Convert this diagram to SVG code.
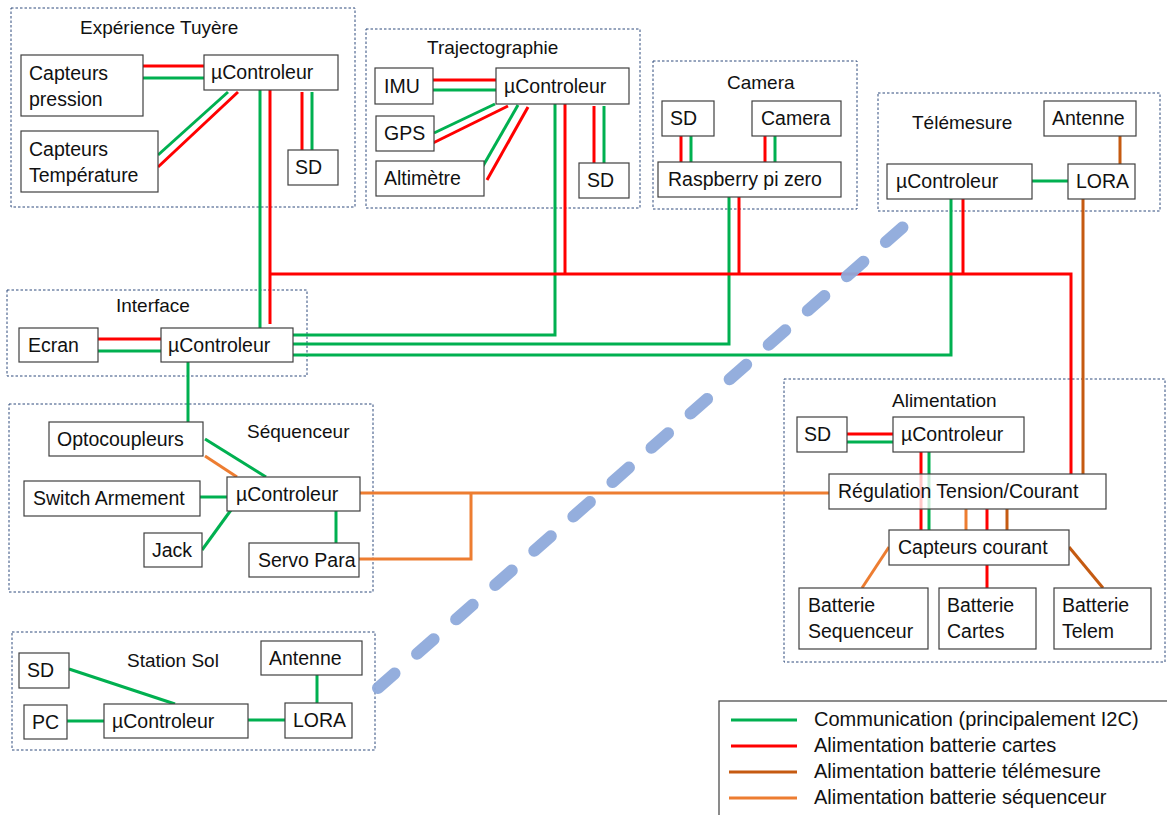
<svg xmlns="http://www.w3.org/2000/svg" width="1167" height="815" viewBox="0 0 1167 815">
<style>
text{font-family:"Liberation Sans",Arial,sans-serif;font-size:19.5px;fill:#111}
.ttl{font-size:19px}
.lg{font-size:20px}
.grp{fill:none;stroke:#2f4b7c;stroke-width:1;stroke-dasharray:2.5 2}
.box{fill:#fff;stroke:#404040;stroke-width:1.2}
.g{stroke:#00b050;stroke-width:3;fill:none}
.r{stroke:#ff0000;stroke-width:3;fill:none}
.b{stroke:#c55a11;stroke-width:3;fill:none}
.o{stroke:#ed7d31;stroke-width:3;fill:none}
.radio{stroke:#8eaadb;stroke-width:12;stroke-linecap:round;stroke-dasharray:22 30;fill:none;opacity:0.95}
</style>
<rect width="1167" height="815" fill="#fff"/>

<g id="frames">
<rect class="grp" x="11" y="8" width="344" height="199"/>
<rect class="grp" x="366" y="29" width="274" height="179"/>
<rect class="grp" x="653" y="61" width="204" height="148"/>
<rect class="grp" x="878" y="93" width="282" height="118"/>
<rect class="grp" x="7" y="290" width="300" height="86"/>
<rect class="grp" x="9" y="404" width="364" height="188"/>
<rect class="grp" x="784" y="379" width="381" height="283"/>
<rect class="grp" x="12" y="632" width="363" height="118"/>
<text class="ttl" x="80" y="34">Expérience Tuyère</text>
<text class="ttl" x="427" y="54">Trajectographie</text>
<text class="ttl" x="727" y="89">Camera</text>
<text class="ttl" x="912" y="129">Télémesure</text>
<text class="ttl" x="116" y="312">Interface</text>
<text class="ttl" x="247" y="438">Séquenceur</text>
<text class="ttl" x="892" y="407">Alimentation</text>
<text class="ttl" x="127" y="667">Station Sol</text>
</g>

<g id="connectors">
<line class="r" x1="143" y1="66" x2="204" y2="66"/>
<line class="g" x1="143" y1="78" x2="204" y2="78"/>
<line class="g" x1="228" y1="92" x2="158" y2="155"/>
<line class="r" x1="238" y1="92" x2="158" y2="167"/>
<line class="r" x1="302" y1="92" x2="302" y2="150"/>
<line class="g" x1="312" y1="92" x2="312" y2="150"/>
<line class="g" x1="260" y1="90" x2="260" y2="328"/>
<line class="r" x1="270" y1="90" x2="270" y2="324"/>
<line class="r" x1="433" y1="80" x2="496" y2="80"/>
<line class="g" x1="433" y1="90" x2="496" y2="90"/>
<line class="g" x1="495" y1="104" x2="434" y2="133"/>
<line class="r" x1="508" y1="106" x2="433" y2="143"/>
<line class="g" x1="518" y1="105" x2="483" y2="166"/>
<line class="r" x1="528" y1="107" x2="487" y2="180"/>
<line class="r" x1="594" y1="106" x2="594" y2="163"/>
<line class="g" x1="604" y1="106" x2="604" y2="163"/>
<polyline class="g" points="555,104 555,335 293,335"/>
<line class="r" x1="565" y1="104" x2="565" y2="274"/>
<line class="r" x1="681" y1="136" x2="681" y2="162"/>
<line class="g" x1="691" y1="136" x2="691" y2="162"/>
<line class="r" x1="765" y1="136" x2="765" y2="162"/>
<line class="g" x1="775" y1="136" x2="775" y2="162"/>
<polyline class="g" points="729,197 729,344 293,344"/>
<line class="r" x1="739" y1="197" x2="739" y2="274"/>
<line class="g" x1="1032" y1="181" x2="1068" y2="181"/>
<line class="b" x1="1120" y1="136" x2="1120" y2="164"/>
<polyline class="g" points="951,199 951,355 293,355"/>
<line class="r" x1="963" y1="199" x2="963" y2="274"/>
<line class="b" x1="1083" y1="199" x2="1083" y2="474"/>
<polyline class="r" points="270,274 1071,274 1071,474"/>
<line class="r" x1="98" y1="339" x2="161" y2="339"/>
<line class="g" x1="98" y1="351" x2="161" y2="351"/>
<line class="g" x1="188" y1="362" x2="188" y2="422"/>
<line class="g" x1="205" y1="439" x2="266" y2="477"/>
<line class="o" x1="205" y1="456" x2="237" y2="477"/>
<line class="g" x1="200" y1="497" x2="227" y2="497"/>
<line class="g" x1="231" y1="510" x2="202" y2="550"/>
<line class="g" x1="336" y1="511" x2="336" y2="543"/>
<line class="o" x1="360" y1="493" x2="829" y2="493"/>
<polyline class="o" points="359,559 471,559 471,493"/>
<line class="r" x1="847" y1="434" x2="893" y2="434"/>
<line class="g" x1="847" y1="442" x2="893" y2="442"/>
<line class="r" x1="921" y1="452" x2="921" y2="530"/>
<line class="g" x1="929" y1="452" x2="929" y2="530"/>
<line class="o" x1="966" y1="509" x2="966" y2="530"/>
<line class="r" x1="987" y1="509" x2="987" y2="530"/>
<line class="b" x1="1007" y1="509" x2="1007" y2="530"/>
<line class="o" x1="889" y1="547" x2="862" y2="588"/>
<line class="r" x1="987" y1="565" x2="987" y2="588"/>
<line class="b" x1="1069" y1="547" x2="1103" y2="588"/>
<line class="g" x1="69" y1="669" x2="175" y2="704"/>
<line class="g" x1="67" y1="721" x2="104" y2="721"/>
<line class="g" x1="248" y1="720" x2="285" y2="720"/>
<line class="g" x1="317" y1="675" x2="317" y2="703"/>
<line class="radio" x1="378" y1="688" x2="920" y2="212"/>
</g>

<g id="tuyere">
<g id="t-capp"><rect class="box" x="21" y="55" width="122" height="61"/><text x="29" y="80">Capteurs</text><text x="29" y="106">pression</text></g>
<g id="t-uc"><rect class="box" x="204" y="55" width="134" height="35"/><text x="211" y="79">µControleur</text></g>
<g id="t-capt"><rect class="box" x="21" y="131" width="137" height="61"/><text x="29" y="156">Capteurs</text><text x="29" y="182">Température</text></g>
<g id="t-sd"><rect class="box" x="288" y="150" width="50" height="35"/><text x="295" y="174">SD</text></g>
</g>

<g id="traj">
<g id="tr-imu"><rect class="box" x="375" y="68" width="58" height="36"/><text x="384" y="93">IMU</text></g>
<g id="tr-uc"><rect class="box" x="496" y="68" width="133" height="36"/><text x="504" y="93">µControleur</text></g>
<g id="tr-gps"><rect class="box" x="376" y="116" width="58" height="35"/><text x="384" y="140">GPS</text></g>
<g id="tr-alt"><rect class="box" x="376" y="161" width="108" height="35"/><text x="384" y="185">Altimètre</text></g>
<g id="tr-sd"><rect class="box" x="579" y="163" width="50" height="35"/><text x="587" y="187">SD</text></g>
</g>

<g id="camera">
<g id="c-sd"><rect class="box" x="662" y="101" width="52" height="35"/><text x="670" y="125">SD</text></g>
<g id="c-cam"><rect class="box" x="752" y="101" width="89" height="35"/><text x="761" y="125">Camera</text></g>
<g id="c-rpi"><rect class="box" x="658" y="162" width="183" height="35"/><text x="668" y="186">Raspberry pi zero</text></g>
</g>

<g id="telemesure">
<g id="tm-ant"><rect class="box" x="1044" y="101" width="92" height="35"/><text x="1052" y="125">Antenne</text></g>
<g id="tm-uc"><rect class="box" x="887" y="164" width="145" height="35"/><text x="896" y="188">µControleur</text></g>
<g id="tm-lora"><rect class="box" x="1068" y="164" width="67" height="35"/><text x="1076" y="188">LORA</text></g>
</g>

<g id="interface">
<g id="i-ecran"><rect class="box" x="19" y="328" width="79" height="34"/><text x="28" y="352">Ecran</text></g>
<g id="i-uc"><rect class="box" x="161" y="328" width="132" height="34"/><text x="168" y="352">µControleur</text></g>
</g>

<g id="sequenceur">
<g id="s-opto"><rect class="box" x="49" y="422" width="154" height="34"/><text x="57" y="446">Optocoupleurs</text></g>
<g id="s-switch"><rect class="box" x="24" y="481" width="176" height="35"/><text x="33" y="505">Switch Armement</text></g>
<g id="s-uc"><rect class="box" x="227" y="477" width="133" height="34"/><text x="236" y="501">µControleur</text></g>
<g id="s-jack"><rect class="box" x="144" y="533" width="58" height="34"/><text x="152" y="557">Jack</text></g>
<g id="s-servo"><rect class="box" x="249" y="543" width="110" height="34"/><text x="258" y="567">Servo Para</text></g>
</g>

<g id="alimentation">
<g id="a-sd"><rect class="box" x="797" y="417" width="50" height="35"/><text x="804" y="441">SD</text></g>
<g id="a-uc"><rect class="box" x="893" y="417" width="131" height="35"/><text x="901" y="441">µControleur</text></g>
<g id="a-reg"><rect class="box" x="829" y="474" width="277" height="35" style="fill-opacity:0.78"/><text x="838" y="498">Régulation Tension/Courant</text></g>
<g id="a-capc"><rect class="box" x="889" y="530" width="180" height="35"/><text x="898" y="554">Capteurs courant</text></g>
<g id="a-bseq"><rect class="box" x="799" y="588" width="129" height="61"/><text x="808" y="612">Batterie</text><text x="808" y="638">Sequenceur</text></g>
<g id="a-bcar"><rect class="box" x="939" y="588" width="97" height="61"/><text x="947" y="612">Batterie</text><text x="947" y="638">Cartes</text></g>
<g id="a-btel"><rect class="box" x="1054" y="588" width="97" height="61"/><text x="1062" y="612">Batterie</text><text x="1062" y="638">Telem</text></g>
</g>

<g id="stationsol">
<g id="ss-sd"><rect class="box" x="19" y="653" width="50" height="35"/><text x="27" y="677">SD</text></g>
<g id="ss-pc"><rect class="box" x="24" y="705" width="43" height="34"/><text x="32" y="729">PC</text></g>
<g id="ss-uc"><rect class="box" x="104" y="704" width="144" height="34"/><text x="112" y="728">µControleur</text></g>
<g id="ss-ant"><rect class="box" x="261" y="641" width="101" height="34"/><text x="269" y="665">Antenne</text></g>
<g id="ss-lora"><rect class="box" x="285" y="703" width="67" height="35"/><text x="293" y="727">LORA</text></g>
</g>

<g id="legend">
<rect x="719" y="701" width="460" height="120" fill="#fff" stroke="#404040" stroke-width="1.2"/>
<line class="g" x1="731" y1="720" x2="797" y2="720"/>
<line class="r" x1="731" y1="746" x2="797" y2="746"/>
<line class="b" x1="729" y1="772" x2="797" y2="772"/>
<line class="o" x1="729" y1="798" x2="797" y2="798"/>
<text class="lg" x="814" y="726">Communication (principalement I2C)</text>
<text class="lg" x="814" y="752">Alimentation batterie cartes</text>
<text class="lg" x="814" y="778">Alimentation batterie télémesure</text>
<text class="lg" x="814" y="804">Alimentation batterie séquenceur</text>
</g>
</svg>
